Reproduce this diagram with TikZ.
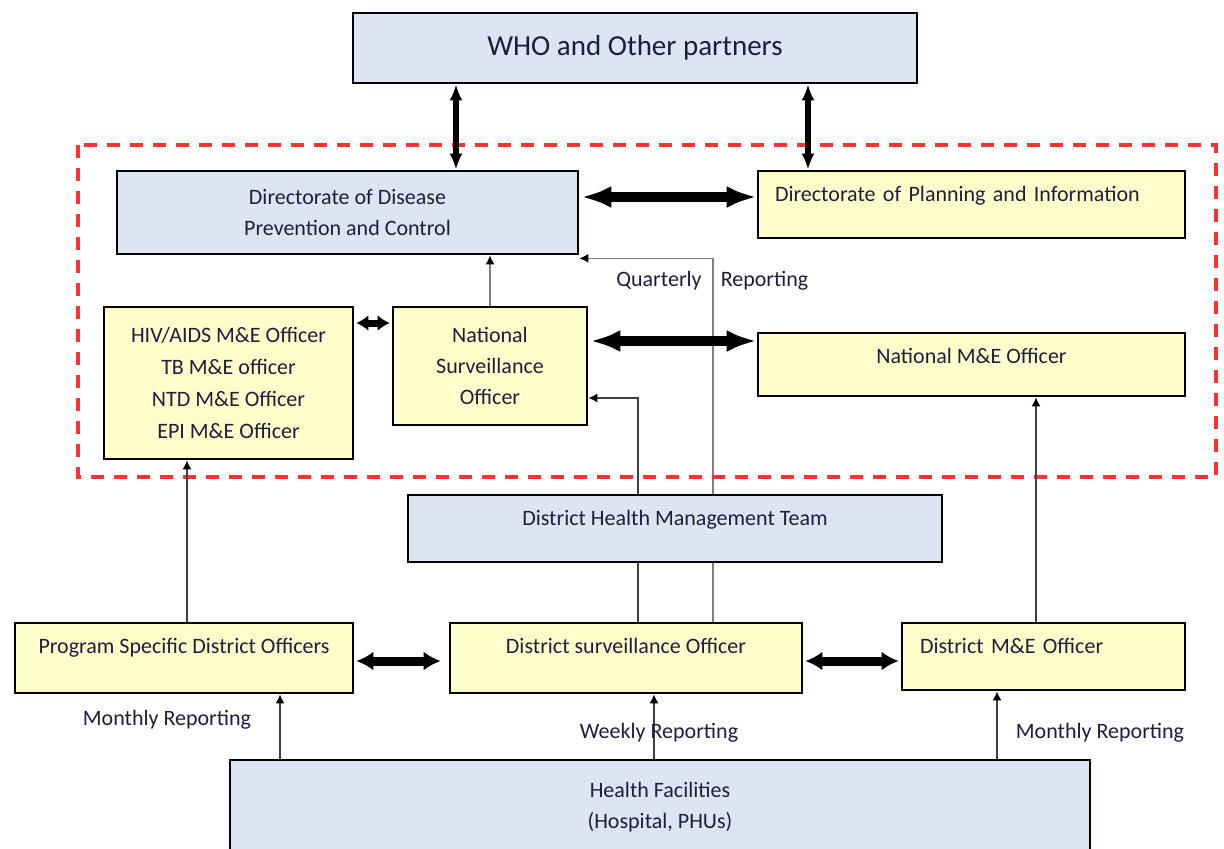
\documentclass[tikz,border=0pt]{standalone}
\usepackage{fontspec}
\setmainfont{Carlito}
\usetikzlibrary{arrows.meta,backgrounds}
\definecolor{bfill}{HTML}{DCE6F2}
\definecolor{yfill}{HTML}{FFFFCC}
\definecolor{rdash}{HTML}{FF3333}
\definecolor{txt}{HTML}{1E1E3C}
\begin{document}
\begin{tikzpicture}[x=0.5pt,y=-0.5pt,
  box/.style={draw=black,line width=1.3pt,inner sep=0pt,align=center,text=txt,
    font=\fontsize{11}{15.5}\selectfont},
  bluebox/.style={box,fill=bfill},
  yelbox/.style={box,fill=yfill},
  lbl/.style={inner sep=0pt,text=txt,font=\fontsize{11}{13}\selectfont},
  dblbig/.style={line width=5pt,{Latex[length=15pt,width=11pt]}-{Latex[length=15pt,width=11pt]}},
  dblv/.style={line width=3pt,{Latex[length=8pt,width=6.5pt]}-{Latex[length=8pt,width=6.5pt]}},
  dblsmall/.style={line width=3.5pt,{Latex[length=6pt,width=8pt]}-{Latex[length=6pt,width=8pt]}},
  dblmid/.style={line width=4.5pt,{Latex[length=8.5pt,width=9.5pt]}-{Latex[length=8.5pt,width=9.5pt]}},
  thinarr/.style={line width=0.8pt,draw=black!75,-{Latex[length=4.5pt,width=4.5pt,color=black]}},
  grayarr/.style={line width=0.8pt,draw=black!50,-{Latex[length=4.5pt,width=4.5pt,color=black]}}
]
\useasboundingbox (0,0) rectangle (1224,848);
\clip (0,0) rectangle (1224,848);

% frame
\draw[rdash,line width=1.8pt,dash pattern=on 6.5pt off 5pt] (78,145) rectangle (1216,477);

% boxes
\node[bluebox,minimum width=282pt,minimum height=35pt,font=\fontsize{14.5}{17}\selectfont] (who) at (635,48) {WHO and Other partners};
\node[bluebox,minimum width=230.5pt,minimum height=41.5pt] (ddpc) at (347.5,212.5) {Directorate of Disease\\Prevention and Control};
\node[yelbox,minimum width=213.5pt,minimum height=33.5pt,text width=196.5pt,align=left,text height=7.5pt,text depth=11pt] (dpi) at (971.5,204.5) {Directorate of Planning and Information};
\node[yelbox,minimum width=124.5pt,minimum height=76pt,font=\fontsize{11}{16}\selectfont] (hiv) at (228.5,383) {HIV/AIDS M\&E Officer\\TB M\&E officer\\NTD M\&E Officer\\EPI M\&E Officer};
\node[yelbox,minimum width=97pt,minimum height=59pt] (nso) at (490,366) {National\\Surveillance\\Officer};
\node[yelbox,minimum width=213.5pt,minimum height=31.5pt,text height=7.5pt,text depth=9pt] (nme) at (971.5,364.5) {National M\&E Officer};
\node[yelbox,minimum width=169pt,minimum height=35pt,text height=7.5pt,text depth=12.5pt] (psdo) at (184,658) {Program Specific District Officers};
\node[yelbox,minimum width=176pt,minimum height=35pt,text height=7.5pt,text depth=12.5pt] (dso) at (626,658) {District surveillance Officer};
\node[yelbox,minimum width=141.5pt,minimum height=33.5pt,text width=123.5pt,align=left,text height=7.5pt,text depth=11pt] (dme) at (1043.5,656.5) {District M\&E Officer};
\node[bluebox,minimum width=430pt,minimum height=47pt] (hf) at (660,807) {Health Facilities\\(Hospital, PHUs)};

% lines passing behind the DHMT box
\begin{scope}[on background layer]
\draw[thinarr] (dso.north -| 638,0) |- (nso.east |- 0,398);
\draw[grayarr] (dso.north -| 713,0) |- ([yshift=-1.5pt]ddpc.south east);
\end{scope}
\node[bluebox,minimum width=267pt,minimum height=33.5pt,text height=7.5pt,text depth=11pt] (dhmt) at (675,528.5) {District Health Management Team};

% double arrows
\draw[dblv] (who.south -| 456,0) -- (ddpc.north -| 456,0);
\draw[dblv] (who.south -| 808,0) -- (dpi.north -| 808,0);
\draw[dblbig] ([xshift=1pt]ddpc.east |- 0,197) -- (dpi.west |- 0,197);
\draw[dblsmall] ([xshift=1pt]hiv.east |- 0,323) -- ([xshift=-1pt]nso.west |- 0,323);
\draw[dblbig] ([xshift=1pt]nso.east |- 0,341) -- (nme.west |- 0,341);
\draw[dblmid] ([xshift=1pt]psdo.east |- 0,661) -- ([xshift=-4pt]dso.west |- 0,661);
\draw[dblmid] ([xshift=1pt]dso.east |- 0,661) -- ([xshift=-1pt]dme.west |- 0,661);

% thin arrows
\draw[grayarr] (nso.north) -- (ddpc.south -| nso.north);
\draw[thinarr] (psdo.north -| 187,0) -- (hiv.south -| 187,0);
\draw[thinarr] (dme.north -| 1036,0) -- (nme.south -| 1036,0);
\draw[thinarr] (hf.north -| 280,0) -- (psdo.south -| 280,0);
\draw[thinarr] (hf.north -| 654,0) -- (dso.south -| 654,0);
\draw[thinarr] (hf.north -| 997,0) -- (dme.south -| 997,0);

% labels
\node[lbl] (lq) at (659,281) {Quarterly};
\node[lbl] (lr) at (764.5,281) {Reporting};
\node[lbl] (lm1) at (167,720) {Monthly Reporting};
\node[lbl] (lw) at (659,733) {Weekly Reporting};
\node[lbl] (lm2) at (1100,733) {Monthly Reporting};
\end{tikzpicture}
\end{document}
